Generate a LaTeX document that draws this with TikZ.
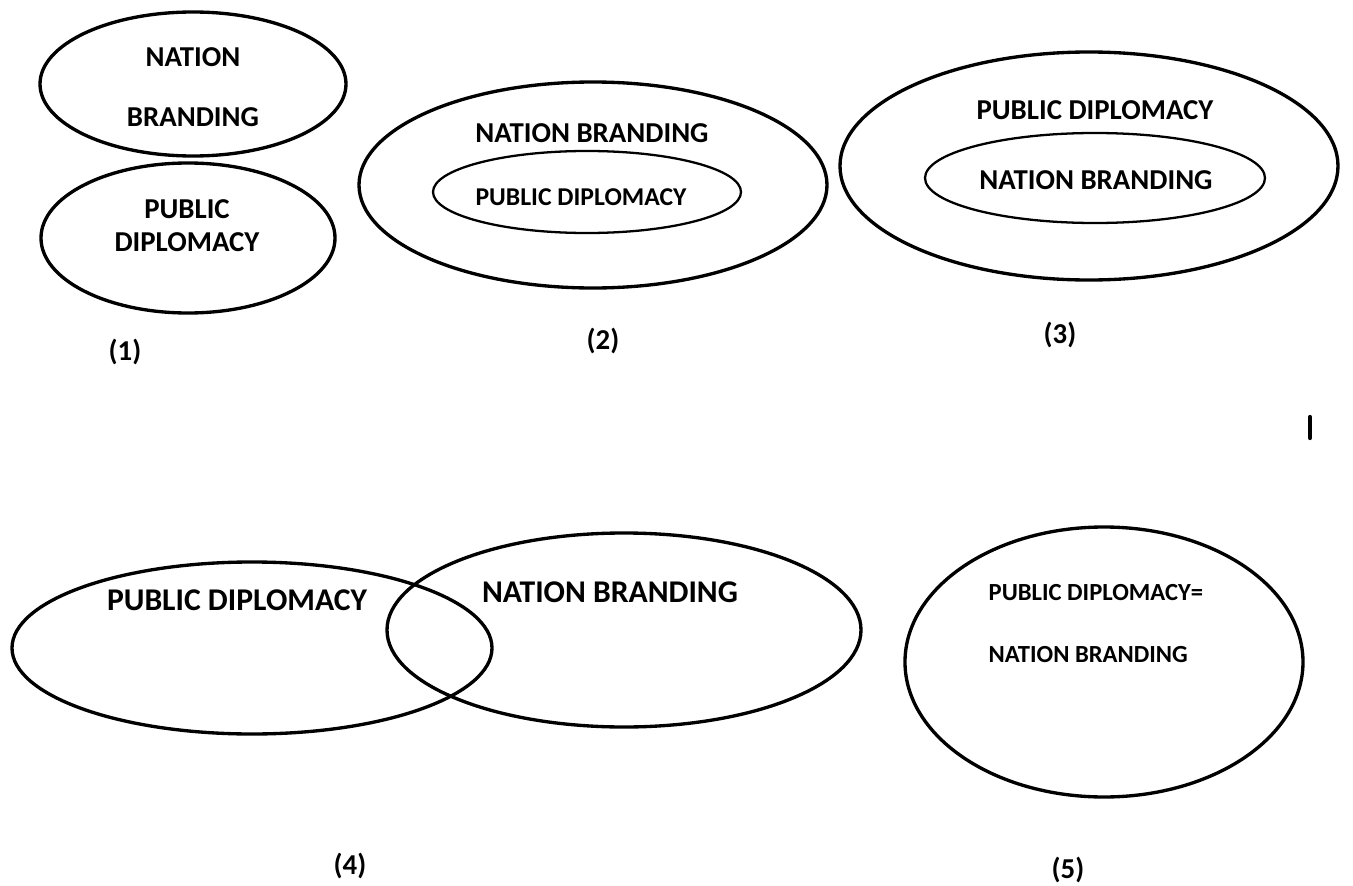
\documentclass[tikz,border=0pt]{standalone}
\usepackage{fontspec}
\setmainfont{Carlito}

\tikzset{
  outer/.style={line width=0.95pt},
  inner/.style={line width=0.65pt},
  lbl/.style={font=\fontsize{8.2}{9}\selectfont\bfseries},
}

\begin{document}
\begin{tikzpicture}[line cap=round,line join=round]
  \useasboundingbox (0,0) rectangle (13.53,-8.86);

  % (1) two separate ellipses
  \draw[outer] (1.93,-0.84) ellipse (1.53 and 0.72);
  \draw[outer] (1.88,-2.38) ellipse (1.47 and 0.75);
  \node[lbl] (nation1) at (1.93,-0.57) {NATION};
  \node[lbl] (branding1) at (1.93,-1.17) {BRANDING};
  \node[lbl] (public1) at (1.87,-2.09) {PUBLIC};
  \node[lbl] (diplomacy1) at (1.87,-2.42) {DIPLOMACY};
  \node[lbl] (cap1) at (1.25,-3.52) {(1)};

  % (2) public diplomacy inside nation branding
  \draw[outer] (5.93,-1.85) ellipse (2.34 and 1.03);
  \draw[inner] (5.87,-1.92) ellipse (1.54 and 0.41);
  \node[lbl] (nb2) at (5.92,-1.33) {NATION BRANDING};
  \node[lbl,font=\fontsize{7.3}{8}\selectfont\bfseries] (pd2) at (5.81,-1.97) {PUBLIC DIPLOMACY};
  \node[lbl] (cap2) at (6.03,-3.41) {(2)};

  % (3) nation branding inside public diplomacy
  \draw[outer] (10.89,-1.66) ellipse (2.49 and 1.14);
  \draw[inner] (10.95,-1.78) ellipse (1.70 and 0.45);
  \node[lbl] (pd3) at (10.95,-1.10) {PUBLIC DIPLOMACY};
  \node[lbl] (nb3) at (10.96,-1.80) {NATION BRANDING};
  \node[lbl] (cap3) at (10.60,-3.35) {(3)};

  % (4) overlapping ellipses
  \draw[outer] (2.52,-6.48) ellipse (2.40 and 0.86);
  \draw[outer] (6.24,-6.30) ellipse (2.37 and 0.97);
  \node[lbl,font=\fontsize{9}{10}\selectfont\bfseries] (pd4) at (2.37,-6.00) {PUBLIC DIPLOMACY};
  \node[lbl,font=\fontsize{9}{10}\selectfont\bfseries] (nb4) at (6.10,-5.92) {NATION BRANDING};
  \node[lbl] (cap4) at (3.50,-8.66) {(4)};

  % (5) one ellipse for both
  \draw[outer] (11.04,-6.62) ellipse (1.99 and 1.35);
  \node[lbl,font=\fontsize{7}{8}\selectfont\bfseries,anchor=west,inner sep=0pt] (pd5) at (9.88,-5.93) {PUBLIC DIPLOMACY=};
  \node[lbl,font=\fontsize{7}{8}\selectfont\bfseries,anchor=west,inner sep=0pt] (nb5) at (9.88,-6.55) {NATION BRANDING};
  \node[lbl] (cap5) at (10.68,-8.70) {(5)};

  % stray mark at the right edge
  \draw[line width=1.2pt] (13.10,-4.17) -- (13.10,-4.38);
\end{tikzpicture}
\end{document}
